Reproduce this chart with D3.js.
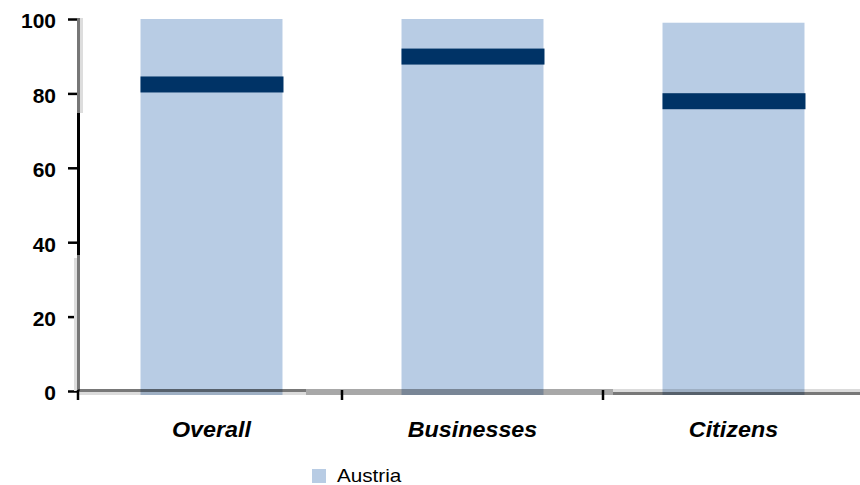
<!DOCTYPE html>
<html><head><meta charset="utf-8">
<script src="https://cdn.jsdelivr.net/npm/d3@7"></script>
<style>
html,body{margin:0;padding:0;background:#fff;}
svg{display:block;font-family:"Liberation Sans",Arial,sans-serif;}
</style></head>
<body><svg id="c" width="860" height="485"></svg>
<script>
const categories = ["Overall", "Businesses", "Citizens"];
const barValues = [100, 100, 99];
const markerValues = [82.4, 89.9, 77.9];
const yTicks = [0, 20, 40, 60, 80, 100];
const legendLabels = ["Austria"];

const svg = d3.select("#c");
const y = d3.scaleLinear().domain([0, 100]).range([391, 19]);
const x = d3.scaleBand().domain(categories).range([81, 864]).paddingInner(0.456).paddingOuter(0.228);
const axisX = 78;
const y0 = y(0);

// bars
svg.append("g").selectAll("rect").data(categories).join("rect")
  .attr("x", d => x(d)).attr("width", x.bandwidth())
  .attr("y", (d, i) => y(barValues[i]))
  .attr("height", (d, i) => y0 + 4 - y(barValues[i]))
  .attr("fill", "#b8cce4");

// markers
svg.append("g").selectAll("rect").data(categories).join("rect")
  .attr("x", d => x(d)).attr("width", x.bandwidth() + 1)
  .attr("y", (d, i) => y(markerValues[i]) - 8)
  .attr("height", 16)
  .attr("fill", "#003366");

// y axis
const yAxis = svg.append("g").attr("transform", `translate(${axisX},0)`)
  .call(d3.axisLeft(y).tickValues(yTicks).tickSize(10).tickPadding(12).tickFormat(d3.format("d")));
yAxis.select(".domain").remove();
yAxis.selectAll(".tick line").attr("stroke", "#000").attr("stroke-width", 2.5);
yAxis.selectAll(".tick text").attr("fill", "#000").attr("font-size", 21).attr("font-weight", "bold")
  .attr("font-family", "'Liberation Sans', Arial, sans-serif").attr("dy", "0.42em");

// y axis line segments (scanned look)
const ySeg = svg.append("g");
ySeg.append("rect").attr("x", axisX - 1).attr("y", y(100) - 1).attr("width", 3).attr("height", 113 - y(100) + 1).attr("fill", "#777");
ySeg.append("rect").attr("x", axisX + 2).attr("y", y(100) - 1).attr("width", 3).attr("height", 113 - y(100) + 1).attr("fill", "#ddd");
ySeg.append("rect").attr("x", axisX - 1).attr("y", 113).attr("width", 3).attr("height", 142).attr("fill", "#000");
ySeg.append("rect").attr("x", axisX - 1).attr("y", 255).attr("width", 3).attr("height", y0 - 255).attr("fill", "#777");
ySeg.append("rect").attr("x", axisX - 4).attr("y", 258).attr("width", 3).attr("height", y0 - 258).attr("fill", "#ddd");

// x axis line segments
const xg = svg.append("g");
const step = x.step();
const b1 = x(categories[1]) - step * x.paddingInner() / 2;
const b2 = x(categories[2]) - step * x.paddingInner() / 2;
xg.append("rect").attr("x", axisX).attr("y", y0 - 2).attr("width", 306 - axisX).attr("height", 3).attr("fill", "rgba(0,0,0,0.53)");
xg.append("rect").attr("x", axisX).attr("y", y0 + 1).attr("width", 306 - axisX).attr("height", 3).attr("fill", "rgba(0,0,0,0.14)");
xg.append("rect").attr("x", 306).attr("y", y0 - 2).attr("width", 613 - 306).attr("height", 6).attr("fill", "rgba(0,0,0,0.34)");
xg.append("rect").attr("x", 613).attr("y", y0 - 2).attr("width", 860 - 613).attr("height", 3).attr("fill", "rgba(0,0,0,0.14)");
xg.append("rect").attr("x", 613).attr("y", y0 + 1).attr("width", 860 - 613).attr("height", 3).attr("fill", "rgba(0,0,0,0.53)");
// x ticks at band boundaries
[axisX, b1, b2].forEach(bx => {
  xg.append("line").attr("x1", bx).attr("x2", bx).attr("y1", y0 - 1).attr("y2", y0 + 9)
    .attr("stroke", "#000").attr("stroke-width", 2.5);
});

// category labels
svg.append("g").selectAll("text").data(categories).join("text")
  .attr("x", d => x(d) + x.bandwidth() / 2)
  .attr("y", 437)
  .attr("text-anchor", "middle")
  .attr("font-size", 22).attr("font-weight", "bold").attr("font-style", "italic")
  .attr("fill", "#000")
  .attr("transform", d => { const cx = x(d) + x.bandwidth() / 2; return `translate(${cx},0) scale(1.06,1) translate(${-cx},0)`; })
  .text(d => d);

// legend
const lg = svg.append("g");
lg.append("rect").attr("x", 312).attr("y", 469).attr("width", 14).attr("height", 14).attr("fill", "#b8cce4");
lg.append("text").attr("x", 337).attr("y", 482).attr("font-size", 18).attr("fill", "#000")
  .attr("transform", "translate(337,0) scale(1.15,1) translate(-337,0)").text(legendLabels[0]);
</script>
</body></html>
